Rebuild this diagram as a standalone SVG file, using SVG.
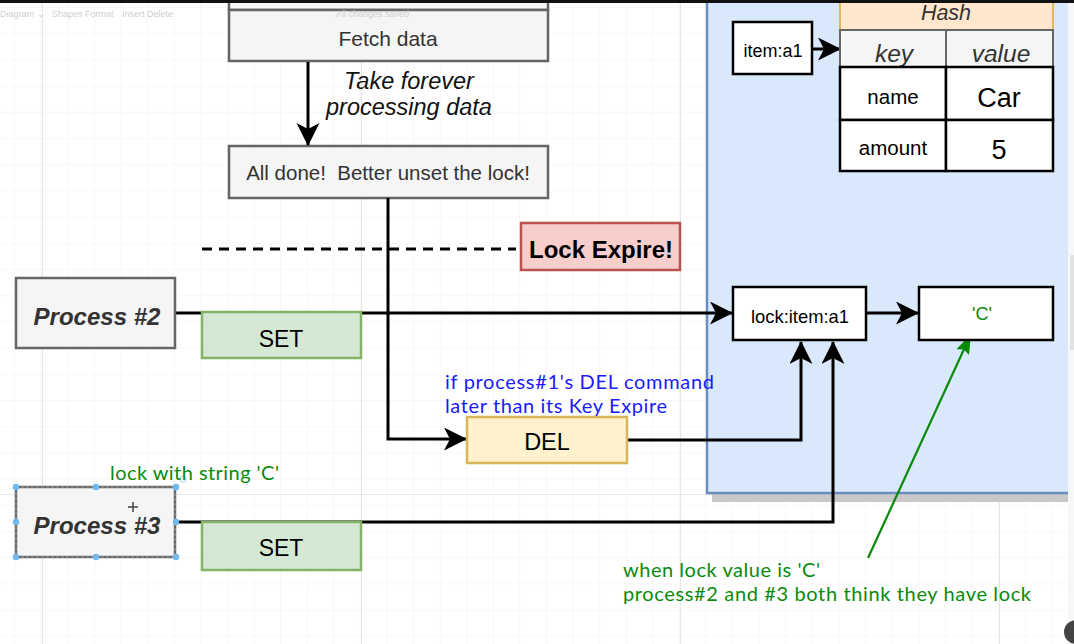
<svg xmlns="http://www.w3.org/2000/svg" width="1074" height="644" viewBox="0 0 1074 644">
<defs>
<pattern id="grid" x="15" y="8" width="26.6" height="26.2" patternUnits="userSpaceOnUse">
<path d="M26.6,0 V26.2 M0,26.2 H26.6" fill="none" stroke="#f0f0f0" stroke-width="1"/>
</pattern>
<marker id="arr" markerUnits="userSpaceOnUse" markerWidth="24" markerHeight="24" refX="22" refY="11.5" orient="auto" viewBox="0 0 24 24">
<path d="M0,0 L23,11.5 L0,23 L6,11.5 Z" fill="#000"/>
</marker>
<marker id="garr" markerUnits="userSpaceOnUse" markerWidth="22" markerHeight="16" refX="20" refY="7" orient="auto" viewBox="0 0 22 16">
<path d="M0,0 L20,7 L0,14 L3,7 Z" fill="#0a8a0a"/>
</marker>
</defs>
<style>
.gbox{fill:#f5f5f5;stroke:#666;stroke-width:2.5}
.wbox{fill:#fff;stroke:#000;stroke-width:2.5}
.set{fill:#d5e8d4;stroke:#82b366;stroke-width:2.5}
.del{fill:#fff2cc;stroke:#d6b656;stroke-width:2.5}
.t{font-family:"Liberation Sans",Arial,sans-serif;text-anchor:middle;dominant-baseline:central}
.proc{font-weight:bold;font-style:italic;font-size:24px;fill:#333}
.note{font-family:Lato,"Noto Sans",sans-serif;font-size:20px}
.conn{fill:none;stroke:#000;stroke-width:3}
.tb{font-family:"Liberation Sans",Arial,sans-serif;font-size:9px;fill:#cfcfcf}
.hd{fill:#6fb9ee}
</style>
<rect x="0" y="0" width="1074" height="644" fill="#fff"/>
<rect x="0" y="0" width="1074" height="644" fill="url(#grid)"/>
<g stroke="#e6e6e6" stroke-width="1">
<line x1="42.5" y1="0" x2="42.5" y2="644"/>
<line x1="361.5" y1="0" x2="361.5" y2="644"/>
<line x1="680.5" y1="0" x2="680.5" y2="644"/>
<line x1="999.5" y1="0" x2="999.5" y2="644"/>
<line x1="0" y1="494.5" x2="1074" y2="494.5"/>
</g>
<g id="redis-container">
<rect x="712" y="0" width="362" height="502" fill="#c8c8c8"/>
<rect x="707" y="-2" width="361" height="495" fill="#dae8fc"/>
<path d="M707,-2 V493 H1068" fill="none" stroke="#6c8ebf" stroke-width="2.5"/>
<rect x="1068" y="0" width="6" height="644" fill="#f6f7f9"/>
<rect x="1070" y="255" width="4" height="95" fill="#e2e2e2"/>
</g>
<g id="top-box">
<rect class="gbox" x="229" y="-10" width="319" height="20"/>
</g>
<g id="fetch-data">
<rect class="gbox" x="229" y="10" width="319" height="51"/>
<text class="t" x="388" y="38" font-size="21" fill="#333">Fetch data</text>
</g>
<g id="all-done">
<rect class="gbox" x="229" y="146" width="319" height="52"/>
<text class="t" x="388" y="172" font-size="20.5" fill="#333" xml:space="preserve">All done!  Better unset the lock!</text>
</g>
<g id="label-take-forever">
<text class="t" x="409" y="81" font-size="23.5" font-style="italic" fill="#111">Take forever</text>
<text class="t" x="409" y="107" font-size="23.5" font-style="italic" fill="#111">processing data</text>
</g>
<g id="expire-line">
<line x1="202" y1="249" x2="516" y2="249" stroke="#000" stroke-width="3" stroke-dasharray="10,7"/>
</g>
<g id="lock-expire">
<rect x="521" y="223" width="159" height="47" fill="#f8cecc" stroke="#b85450" stroke-width="2.5"/>
<text class="t" x="601" y="249" font-size="24" font-weight="bold" fill="#000">Lock Expire!</text>
</g>
<g id="connectors">
<line class="conn" x1="308" y1="62" x2="308" y2="145" marker-end="url(#arr)"/>
<polyline class="conn" points="388,198 388,439 466,439" marker-end="url(#arr)"/>
<line class="conn" x1="176" y1="313" x2="732" y2="313" marker-end="url(#arr)"/>
<polyline class="conn" points="628,440 801,440 801,342" marker-end="url(#arr)"/>
<polyline class="conn" points="176,522 833,522 833,342" marker-end="url(#arr)"/>
<line class="conn" x1="866" y1="313" x2="918" y2="313" marker-end="url(#arr)"/>
<line class="conn" x1="812" y1="49" x2="840" y2="49" marker-end="url(#arr)"/>
<line x1="868" y1="558" x2="971" y2="334" stroke="#0a8a0a" stroke-width="2.2" marker-end="url(#garr)"/>
</g>
<g id="process-2">
<rect class="gbox" x="16" y="278" width="159" height="70"/>
<text class="t proc" x="97" y="316">Process #2</text>
</g>
<g id="set-1">
<rect class="set" x="202" y="312" width="159" height="46"/>
<text class="t" x="281" y="339" font-size="23" fill="#000">SET</text>
</g>
<g id="del">
<rect class="del" x="467" y="417" width="160" height="46"/>
<text class="t" x="547" y="442" font-size="23.5" fill="#000">DEL</text>
</g>
<g id="process-3">
<rect class="gbox" x="16" y="487" width="159" height="70"/>
<rect x="16" y="487" width="159" height="70" fill="none" stroke="#999" stroke-width="1" stroke-dasharray="3,2"/>
<text class="t proc" x="97" y="525">Process #3</text>
<g class="hd">
<circle cx="16" cy="487" r="3.2"/><circle cx="96" cy="487" r="3.2"/><circle cx="176" cy="487" r="3.2"/>
<circle cx="16" cy="522" r="3.2"/><circle cx="176" cy="522" r="3.2"/>
<circle cx="16" cy="557" r="3.2"/><circle cx="96" cy="557" r="3.2"/><circle cx="176" cy="557" r="3.2"/>
</g>
<circle cx="183" cy="479" r="3" fill="none" stroke="#9fcdf2" stroke-width="1"/>
<path d="M133,502 V512 M128,507 H138" stroke="#444" stroke-width="1.5"/>
</g>
<g id="set-2">
<rect class="set" x="202" y="522" width="159" height="48"/>
<text class="t" x="281" y="548" font-size="23" fill="#000">SET</text>
</g>
<g id="item-a1">
<rect class="wbox" x="733" y="22" width="79" height="52"/>
<text class="t" x="773" y="51" font-size="18" fill="#000">item:a1</text>
</g>
<g id="hash">
<rect x="840" y="-2" width="213" height="32" fill="#ffe6cc" stroke="#d79b00" stroke-opacity="0.6" stroke-width="2"/>
<text class="t" x="946" y="13" font-size="21.5" font-style="italic" fill="#333">Hash</text>
<rect x="840" y="30" width="213" height="37" fill="#f5f5f5" stroke="#666" stroke-width="2"/>
<line x1="946" y1="30" x2="946" y2="67" stroke="#666" stroke-width="2"/>
<text class="t" x="894" y="53" font-size="24.5" font-style="italic" fill="#333">key</text>
<text class="t" x="1001" y="53" font-size="24.5" font-style="italic" fill="#333">value</text>
<rect class="wbox" x="840" y="67" width="106" height="53"/>
<rect class="wbox" x="946" y="67" width="107" height="53"/>
<rect class="wbox" x="840" y="120" width="106" height="51"/>
<rect class="wbox" x="946" y="120" width="107" height="51"/>
<text class="t" x="893" y="96" font-size="20.5" fill="#000">name</text>
<text class="t" x="999" y="98" font-size="27" fill="#000">Car</text>
<text class="t" x="893" y="147" font-size="20.5" fill="#000">amount</text>
<text class="t" x="999" y="150" font-size="27" fill="#000">5</text>
</g>
<g id="lock-item-a1">
<rect class="wbox" x="733" y="287" width="133" height="53"/>
<text class="t" x="800" y="316" font-size="18.4" fill="#000">lock:item:a1</text>
</g>
<g id="value-c">
<rect class="wbox" x="919" y="287" width="134" height="53"/>
<text class="t" x="982" y="314" font-size="18" fill="#0a8a0a">'C'</text>
</g>
<g id="annotations">
<text class="note" x="445" y="389" fill="#1a1aff" textLength="269" lengthAdjust="spacing">if process#1's DEL command</text>
<text class="note" x="445" y="413" fill="#1a1aff" textLength="222" lengthAdjust="spacing">later than its Key Expire</text>
<text class="note" x="110" y="480" fill="#0a8a0a" textLength="169" lengthAdjust="spacing">lock with string 'C'</text>
<text class="note" x="623" y="577" fill="#0a8a0a" textLength="197" lengthAdjust="spacing">when lock value is 'C'</text>
<text class="note" x="623" y="601" fill="#0a8a0a" textLength="408" lengthAdjust="spacing">process#2 and #3 both think they have lock</text>
</g>
<g id="toolbar">
<text class="tb" x="0" y="17">Diagram ⌄</text>
<text class="tb" x="52" y="17">Shapes  Format</text>
<text class="tb" x="122" y="17">Insert  Delete</text>
<text class="tb" x="336" y="17">All changes saved</text>
</g>
<rect x="0" y="0" width="1074" height="3" fill="#111"/>
<circle cx="1076" cy="632" r="12" fill="#444"/>
</svg>
